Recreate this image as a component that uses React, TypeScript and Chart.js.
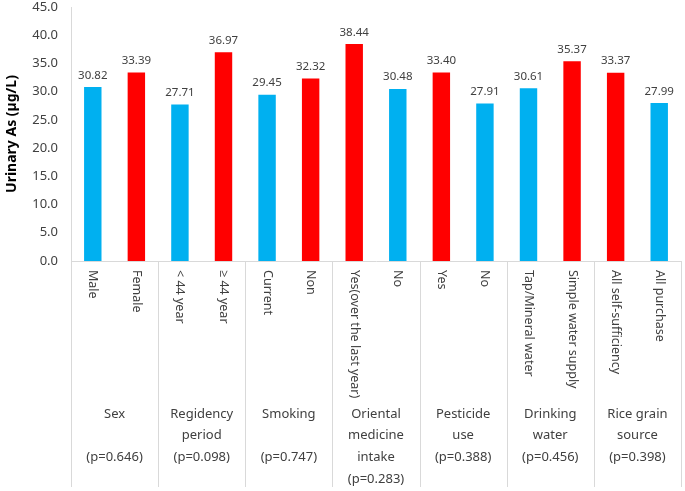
import React, { useEffect, useRef } from "react";
import { Chart, registerables } from "chart.js";

Chart.register(...registerables);

const categories = [
  "Male", "Female",
  "< 44 year", "≥ 44 year",
  "Current", "Non",
  "Yes(over the last year)", "No",
  "Yes", "No",
  "Tap/Mineral water", "Simple water supply",
  "All self-sufficiency", "All purchase",
];
const values = [30.82, 33.39, 27.71, 36.97, 29.45, 32.32, 38.44, 30.48, 33.4, 27.91, 30.61, 35.37, 33.37, 27.99];
const barColors = [
  "#00B0F0", "#FF0000", "#00B0F0", "#FF0000", "#00B0F0", "#FF0000", "#FF0000",
  "#00B0F0", "#FF0000", "#00B0F0", "#00B0F0", "#FF0000", "#FF0000", "#00B0F0",
];
const groupLabels = [
  ["Sex", "", "(p=0.646)"],
  ["Regidency", "period", "(p=0.098)"],
  ["Smoking", "", "(p=0.747)"],
  ["Oriental", "medicine", "intake", "(p=0.283)"],
  ["Pesticide", "use", "(p=0.388)"],
  ["Drinking", "water", "(p=0.456)"],
  ["Rice grain", "source", "(p=0.398)"],
];
const yTicks = [0, 5, 10, 15, 20, 25, 30, 35, 40, 45];

const FONT = "'Noto Sans', 'Open Sans', sans-serif";
const TEXT = "#404040";
const LINE = "#D9D9D9";

const drawPlugin = {
  id: "customDraw",
  afterDraw(chart: any) {
    const ctx = chart.ctx as CanvasRenderingContext2D;
    const x = chart.scales.x;
    const y = chart.scales.y;
    const area = chart.chartArea;
    ctx.save();

    // y tick labels
    ctx.fillStyle = TEXT;
    ctx.font = `13px ${FONT}`;
    ctx.textAlign = "right";
    ctx.textBaseline = "middle";
    yTicks.forEach((t) => {
      ctx.fillText(t.toFixed(1), area.left - 13, y.getPixelForValue(t));
    });

    // y title
    ctx.save();
    ctx.translate(12, (area.top + area.bottom) / 2);
    ctx.rotate(-Math.PI / 2);
    ctx.font = `bold 14px ${FONT}`;
    ctx.textAlign = "center";
    ctx.textBaseline = "middle";
    ctx.fillStyle = "#000000";
    ctx.fillText("Urinary As (µg/L)", 0, 0);
    ctx.restore();

    // data labels
    ctx.font = `11.5px ${FONT}`;
    ctx.textAlign = "center";
    ctx.textBaseline = "bottom";
    ctx.fillStyle = TEXT;
    const meta = chart.getDatasetMeta(0);
    meta.data.forEach((bar: any, i: number) => {
      ctx.fillText(values[i].toFixed(2), bar.x, bar.y - 6);
    });

    // rotated category labels
    ctx.font = `12.5px ${FONT}`;
    categories.forEach((c, i) => {
      ctx.save();
      ctx.translate(x.getPixelForValue(i), area.bottom + 9);
      ctx.rotate(Math.PI / 2);
      ctx.textAlign = "left";
      ctx.textBaseline = "middle";
      ctx.fillText(c, 0, 0);
      ctx.restore();
    });

    // separators
    ctx.strokeStyle = LINE;
    ctx.lineWidth = 1;
    const bottom = 487;
    for (let g = 0; g <= groupLabels.length; g++) {
      const idx = g * 2;
      let px: number;
      if (idx === 0) px = area.left;
      else if (idx >= categories.length) px = area.right;
      else px = (x.getPixelForValue(idx - 1) + x.getPixelForValue(idx)) / 2;
      px = Math.round(px) + 0.5;
      ctx.beginPath();
      ctx.moveTo(px, area.bottom);
      ctx.lineTo(px, bottom);
      ctx.stroke();
    }

    // group labels
    ctx.font = `13px ${FONT}`;
    ctx.textAlign = "center";
    ctx.textBaseline = "middle";
    ctx.fillStyle = TEXT;
    groupLabels.forEach((lines, g) => {
      const cx = (x.getPixelForValue(g * 2) + x.getPixelForValue(g * 2 + 1)) / 2;
      lines.forEach((l, k) => {
        ctx.fillText(l, cx, 414 + k * 21.7);
      });
    });

    ctx.restore();
  },
};

export default function App() {
  const ref = useRef<HTMLCanvasElement | null>(null);
  useEffect(() => {
    document.body.style.margin = "0";
    const canvas = ref.current!;
    const chart = new Chart(canvas, {
      type: "bar",
      data: {
        labels: categories,
        datasets: [
          {
            data: values,
            backgroundColor: barColors,
            barPercentage: 0.4,
            categoryPercentage: 1,
          },
        ],
      },
      options: {
        animation: false,
        responsive: false,
        layout: { padding: { left: 63, right: 4, top: 7, bottom: 222 } },
        plugins: { legend: { display: false }, tooltip: { enabled: false } },
        scales: {
          x: {
            ticks: { display: false },
            grid: { display: false },
            border: { display: true, color: LINE, width: 1 },
          },
          y: {
            min: 0,
            max: 45,
            ticks: { display: false, stepSize: 5 },
            grid: { display: false },
            border: { display: true, color: LINE, width: 1 },
          },
        },
      },
      plugins: [drawPlugin],
    });
    return () => chart.destroy();
  }, []);
  return (
    <div style={{ width: 685, height: 491, background: "#fff" }}>
      <canvas ref={ref} width={685} height={491} style={{ display: "block" }} />
    </div>
  );
}
